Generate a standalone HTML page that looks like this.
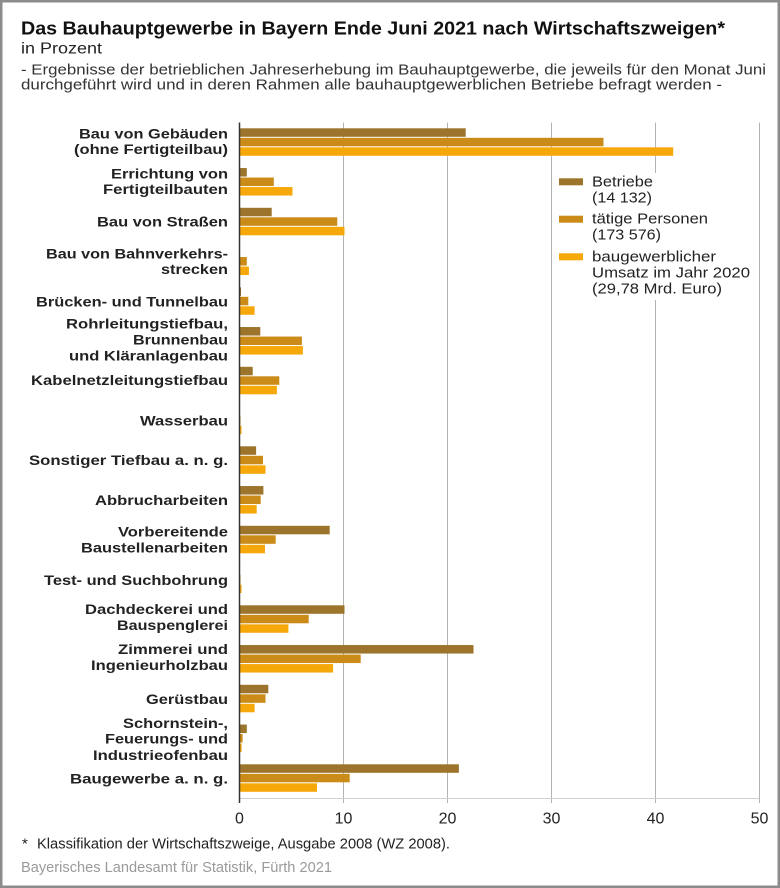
<!DOCTYPE html>
<html>
<head>
<meta charset="utf-8">
<style>
html,body{margin:0;padding:0;background:#fff;}
svg{display:block;}
text{font-family:"Liberation Sans", Arial, sans-serif;}
.lab{font-size:14px;font-weight:bold;fill:#222;}
.leg{font-size:15px;fill:#222;}
.tick{font-size:16px;fill:#222;}
</style>
</head>
<body>
<svg width="780" height="888" viewBox="0 0 780 888" xmlns="http://www.w3.org/2000/svg">
<rect x="0" y="0" width="780" height="888" fill="#fff"/>
<rect x="1.25" y="1.25" width="777.5" height="885.5" fill="none" stroke="#8c8c8c" stroke-width="2.5"/>

<!-- Title -->
<text x="21" y="34.5" font-size="18" font-weight="bold" fill="#111" textLength="704" lengthAdjust="spacingAndGlyphs">Das Bauhauptgewerbe in Bayern Ende Juni 2021 nach Wirtschaftszweigen*</text>
<text x="21" y="53.5" font-size="15.5" fill="#222" textLength="81" lengthAdjust="spacingAndGlyphs">in Prozent</text>
<text x="21" y="74.5" font-size="15" fill="#333" textLength="745" lengthAdjust="spacingAndGlyphs">- Ergebnisse der betrieblichen Jahreserhebung im Bauhauptgewerbe, die jeweils für den Monat Juni</text>
<text x="21" y="89.5" font-size="15" fill="#333" textLength="701" lengthAdjust="spacingAndGlyphs">durchgeführt wird und in deren Rahmen alle bauhauptgewerblichen Betriebe befragt werden -</text>

<!-- Gridlines -->
<g stroke="#b3b3b3" stroke-width="1">
<line x1="343.5" y1="122.5" x2="343.5" y2="803"/>
<line x1="447.5" y1="122.5" x2="447.5" y2="803"/>
<line x1="551.5" y1="122.5" x2="551.5" y2="803"/>
<line x1="655.5" y1="122.5" x2="655.5" y2="803"/>
<line x1="759.5" y1="122.5" x2="759.5" y2="803"/>
</g>
<line x1="239.5" y1="798.5" x2="759.5" y2="798.5" stroke="#d0d0d0" stroke-width="1"/>

<!-- Legend box -->
<rect x="553" y="173" width="204" height="127" fill="#fff"/>
<rect x="559" y="178.3" width="24" height="7" fill="#9c742b"/>
<rect x="559" y="215.7" width="24" height="7" fill="#ca8b18"/>
<rect x="559" y="253.3" width="24" height="7" fill="#f6a80a"/>
<text class="leg" x="592" y="186.5" textLength="61" lengthAdjust="spacingAndGlyphs">Betriebe</text>
<text class="leg" x="592" y="202.5" textLength="60" lengthAdjust="spacingAndGlyphs">(14 132)</text>
<text class="leg" x="592" y="223.5" textLength="116" lengthAdjust="spacingAndGlyphs">tätige Personen</text>
<text class="leg" x="592" y="239.5" textLength="69" lengthAdjust="spacingAndGlyphs">(173 576)</text>
<text class="leg" x="592" y="261.5" textLength="124" lengthAdjust="spacingAndGlyphs">baugewerblicher</text>
<text class="leg" x="592" y="277.5" textLength="158" lengthAdjust="spacingAndGlyphs">Umsatz im Jahr 2020</text>
<text class="leg" x="592" y="293.5" textLength="130" lengthAdjust="spacingAndGlyphs">(29,78 Mrd. Euro)</text>

<!-- Bars -->
<g id="bars">
<rect x="239.5" y="128.3" width="226.2" height="8.5" fill="#9c742b"/>
<rect x="239.5" y="137.8" width="364.0" height="8.5" fill="#ca8b18"/>
<rect x="239.5" y="147.3" width="433.7" height="8.5" fill="#f6a80a"/>
<rect x="239.5" y="168.05" width="7.3" height="8.5" fill="#9c742b"/>
<rect x="239.5" y="177.55" width="34.3" height="8.5" fill="#ca8b18"/>
<rect x="239.5" y="187.05" width="53.0" height="8.5" fill="#f6a80a"/>
<rect x="239.5" y="207.8" width="32.2" height="8.5" fill="#9c742b"/>
<rect x="239.5" y="217.3" width="97.8" height="8.5" fill="#ca8b18"/>
<rect x="239.5" y="226.8" width="105.0" height="8.5" fill="#f6a80a"/>
<rect x="239.5" y="247.55" width="0.5" height="8.5" fill="#9c742b"/>
<rect x="239.5" y="257.05" width="7.3" height="8.5" fill="#ca8b18"/>
<rect x="239.5" y="266.55" width="9.4" height="8.5" fill="#f6a80a"/>
<rect x="239.5" y="287.3" width="1.5" height="8.5" fill="#9c742b"/>
<rect x="239.5" y="296.8" width="8.8" height="8.5" fill="#ca8b18"/>
<rect x="239.5" y="306.3" width="15.1" height="8.5" fill="#f6a80a"/>
<rect x="239.5" y="327.05" width="20.8" height="8.5" fill="#9c742b"/>
<rect x="239.5" y="336.55" width="62.4" height="8.5" fill="#ca8b18"/>
<rect x="239.5" y="346.05" width="63.4" height="8.5" fill="#f6a80a"/>
<rect x="239.5" y="366.8" width="13.2" height="8.5" fill="#9c742b"/>
<rect x="239.5" y="376.3" width="39.8" height="8.5" fill="#ca8b18"/>
<rect x="239.5" y="385.8" width="37.4" height="8.5" fill="#f6a80a"/>
<rect x="239.5" y="406.55" width="0.5" height="8.5" fill="#9c742b"/>
<rect x="239.5" y="416.05" width="1.0" height="8.5" fill="#ca8b18"/>
<rect x="239.5" y="425.55" width="2.0" height="8.5" fill="#f6a80a"/>
<rect x="239.5" y="446.3" width="16.6" height="8.5" fill="#9c742b"/>
<rect x="239.5" y="455.8" width="23.5" height="8.5" fill="#ca8b18"/>
<rect x="239.5" y="465.3" width="26.0" height="8.5" fill="#f6a80a"/>
<rect x="239.5" y="486.05" width="23.9" height="8.5" fill="#9c742b"/>
<rect x="239.5" y="495.55" width="21.2" height="8.5" fill="#ca8b18"/>
<rect x="239.5" y="505.05" width="17.2" height="8.5" fill="#f6a80a"/>
<rect x="239.5" y="525.8" width="90.2" height="8.5" fill="#9c742b"/>
<rect x="239.5" y="535.3" width="36.2" height="8.5" fill="#ca8b18"/>
<rect x="239.5" y="544.8" width="25.5" height="8.5" fill="#f6a80a"/>
<rect x="239.5" y="565.55" width="0.5" height="8.5" fill="#9c742b"/>
<rect x="239.5" y="575.05" width="1.0" height="8.5" fill="#ca8b18"/>
<rect x="239.5" y="584.55" width="2.0" height="8.5" fill="#f6a80a"/>
<rect x="239.5" y="605.3" width="105.0" height="8.5" fill="#9c742b"/>
<rect x="239.5" y="614.8" width="69.2" height="8.5" fill="#ca8b18"/>
<rect x="239.5" y="624.3" width="48.9" height="8.5" fill="#f6a80a"/>
<rect x="239.5" y="645.05" width="234.0" height="8.5" fill="#9c742b"/>
<rect x="239.5" y="654.55" width="121.2" height="8.5" fill="#ca8b18"/>
<rect x="239.5" y="664.05" width="93.6" height="8.5" fill="#f6a80a"/>
<rect x="239.5" y="684.8" width="28.8" height="8.5" fill="#9c742b"/>
<rect x="239.5" y="694.3" width="26.0" height="8.5" fill="#ca8b18"/>
<rect x="239.5" y="703.8" width="15.1" height="8.5" fill="#f6a80a"/>
<rect x="239.5" y="724.55" width="7.3" height="8.5" fill="#9c742b"/>
<rect x="239.5" y="734.05" width="3.1" height="8.5" fill="#ca8b18"/>
<rect x="239.5" y="743.55" width="2.1" height="8.5" fill="#f6a80a"/>
<rect x="239.5" y="764.3" width="219.4" height="8.5" fill="#9c742b"/>
<rect x="239.5" y="773.8" width="110.2" height="8.5" fill="#ca8b18"/>
<rect x="239.5" y="783.3" width="77.5" height="8.5" fill="#f6a80a"/>
</g>

<!-- Axis -->
<line x1="239.5" y1="122.5" x2="239.5" y2="803" stroke="#333" stroke-width="1.5"/>

<!-- Category labels -->
<g class="lab" text-anchor="end">
<text x="228" y="138.3" textLength="149" lengthAdjust="spacingAndGlyphs">Bau von Gebäuden</text>
<text x="228" y="154" textLength="154" lengthAdjust="spacingAndGlyphs">(ohne Fertigteilbau)</text>
<text x="228" y="178.3" textLength="117" lengthAdjust="spacingAndGlyphs">Errichtung von</text>
<text x="228" y="194" textLength="125" lengthAdjust="spacingAndGlyphs">Fertigteilbauten</text>
<text x="228" y="226.7" textLength="131" lengthAdjust="spacingAndGlyphs">Bau von Straßen</text>
<text x="228" y="258.3" textLength="182" lengthAdjust="spacingAndGlyphs">Bau von Bahnverkehrs-</text>
<text x="228" y="274" textLength="67" lengthAdjust="spacingAndGlyphs">strecken</text>
<text x="228" y="306.7" textLength="192" lengthAdjust="spacingAndGlyphs">Brücken- und Tunnelbau</text>
<text x="228" y="328.3" textLength="162" lengthAdjust="spacingAndGlyphs">Rohrleitungstiefbau,</text>
<text x="228" y="344.3" textLength="95" lengthAdjust="spacingAndGlyphs">Brunnenbau</text>
<text x="228" y="360.5" textLength="159" lengthAdjust="spacingAndGlyphs">und Kläranlagenbau</text>
<text x="228" y="385" textLength="197" lengthAdjust="spacingAndGlyphs">Kabelnetzleitungstiefbau</text>
<text x="228" y="425.7" textLength="88" lengthAdjust="spacingAndGlyphs">Wasserbau</text>
<text x="228" y="465" textLength="199" lengthAdjust="spacingAndGlyphs">Sonstiger Tiefbau a. n. g.</text>
<text x="228" y="505" textLength="133" lengthAdjust="spacingAndGlyphs">Abbrucharbeiten</text>
<text x="228" y="536.7" textLength="110" lengthAdjust="spacingAndGlyphs">Vorbereitende</text>
<text x="228" y="552.7" textLength="147" lengthAdjust="spacingAndGlyphs">Baustellenarbeiten</text>
<text x="228" y="585" textLength="184" lengthAdjust="spacingAndGlyphs">Test- und Suchbohrung</text>
<text x="228" y="614" textLength="143" lengthAdjust="spacingAndGlyphs">Dachdeckerei und</text>
<text x="228" y="630" textLength="111" lengthAdjust="spacingAndGlyphs">Bauspenglerei</text>
<text x="228" y="654" textLength="110" lengthAdjust="spacingAndGlyphs">Zimmerei und</text>
<text x="228" y="670" textLength="137" lengthAdjust="spacingAndGlyphs">Ingenieurholzbau</text>
<text x="228" y="704" textLength="82" lengthAdjust="spacingAndGlyphs">Gerüstbau</text>
<text x="228" y="727.8" textLength="105" lengthAdjust="spacingAndGlyphs">Schornstein-,</text>
<text x="228" y="743.5" textLength="123" lengthAdjust="spacingAndGlyphs">Feuerungs- und</text>
<text x="228" y="760" textLength="135" lengthAdjust="spacingAndGlyphs">Industrieofenbau</text>
<text x="228" y="783.3" textLength="158" lengthAdjust="spacingAndGlyphs">Baugewerbe a. n. g.</text>
</g>

<!-- Tick labels -->
<g class="tick" text-anchor="middle">
<text x="239.5" y="823.3">0</text>
<text x="343.5" y="823.3">10</text>
<text x="447.5" y="823.3">20</text>
<text x="551.5" y="823.3">30</text>
<text x="655.5" y="823.3">40</text>
<text x="759.5" y="823.3">50</text>
</g>

<!-- Footnotes -->
<text x="22" y="848.5" font-size="15" fill="#222">*</text>
<text x="37" y="848.5" font-size="15" fill="#222" textLength="413" lengthAdjust="spacingAndGlyphs">Klassifikation der Wirtschaftszweige, Ausgabe 2008 (WZ 2008).</text>
<text x="21" y="872" font-size="15" fill="#9a9a9a" textLength="311" lengthAdjust="spacingAndGlyphs">Bayerisches Landesamt für Statistik, Fürth 2021</text>
</svg>
</body>
</html>
